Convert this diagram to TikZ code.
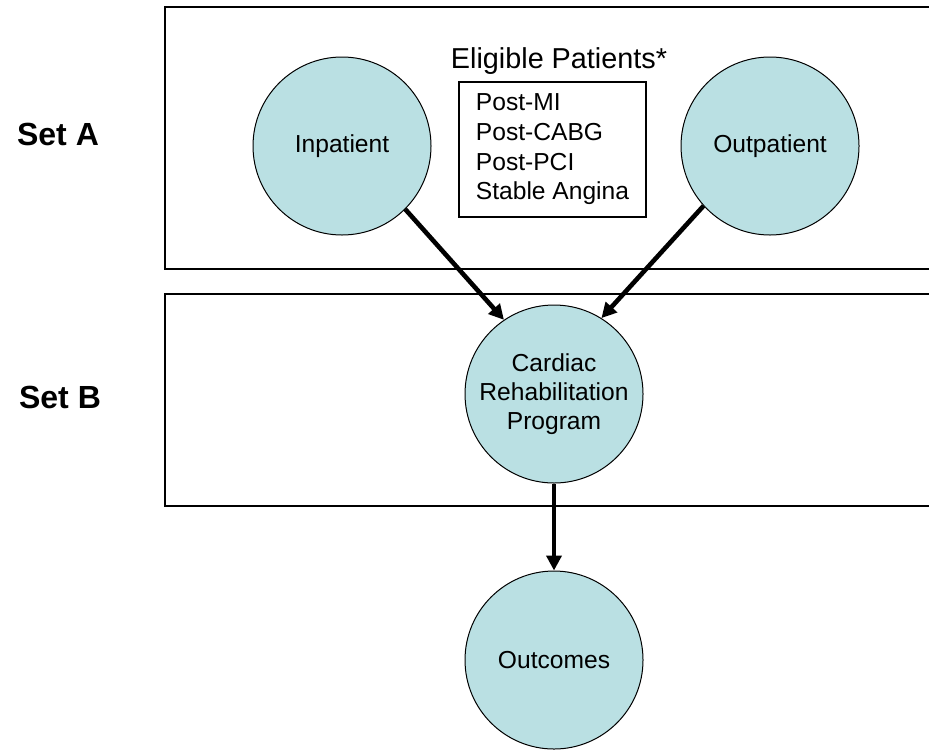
\documentclass[tikz,border=0pt]{standalone}
\usepackage{fontspec}
\setmainfont{Liberation Sans}
\usepackage{xcolor}
\definecolor{crpFill}{HTML}{BAE0E3}
\usetikzlibrary{arrows.meta}

\begin{document}
\begin{tikzpicture}[x=0.5pt, y=-0.5pt,
    frame/.style={draw, line width=0.7pt, minimum width=390pt},
    blob/.style={circle, draw, line width=0.5pt, fill=crpFill, align=center, minimum size=89pt, inner sep=0pt, font=\fontsize{12.3}{14.5}\selectfont},
    setlbl/.style={anchor=base, font=\fontsize{16}{19}\selectfont\bfseries},
    arr/.style={-{Triangle[length=7.5pt, width=7.5pt]}, line width=2.3pt}
  ]
    \useasboundingbox (0,0) rectangle (929,750);
    % the two set frames, open on the right
    \node[frame, minimum height=131pt] (setA) at (555,138) {};
    \node[frame, minimum height=106pt] (setB) at (555,400) {};
    \node[setlbl] (lblA) at (58,145) {Set A};
    \node[setlbl] (lblB) at (60,408) {Set B};
    % set A contents
    \node[anchor=base, font=\fontsize{14.4}{17}\selectfont] (elig) at (559,68) {Eligible Patients*};
    \node[draw, line width=0.6pt, minimum width=93.5pt, minimum height=67.5pt, inner sep=0pt, align=left, font=\fontsize{12.3}{14.85}\selectfont] (crit) at (552.5,149.5) {Post-MI\\Post-CABG\\Post-PCI\\Stable Angina};
    \node[blob] (inp) at (342,146) {Inpatient};
    \node[blob] (outp) at (770,146) {Outpatient};
    % program and outcomes
    \node[blob] (crp) at (554,394) {Cardiac\\Rehabilitation\\Program};
    \node[blob] (outc) at (554,660) {Outcomes};
    \draw[arr] (inp.-45) -- (crp.124);
    \draw[arr] (outp.222) -- (crp.58);
    \draw[arr] (crp.south) -- (outc.north);
  \end{tikzpicture}
\end{document}
